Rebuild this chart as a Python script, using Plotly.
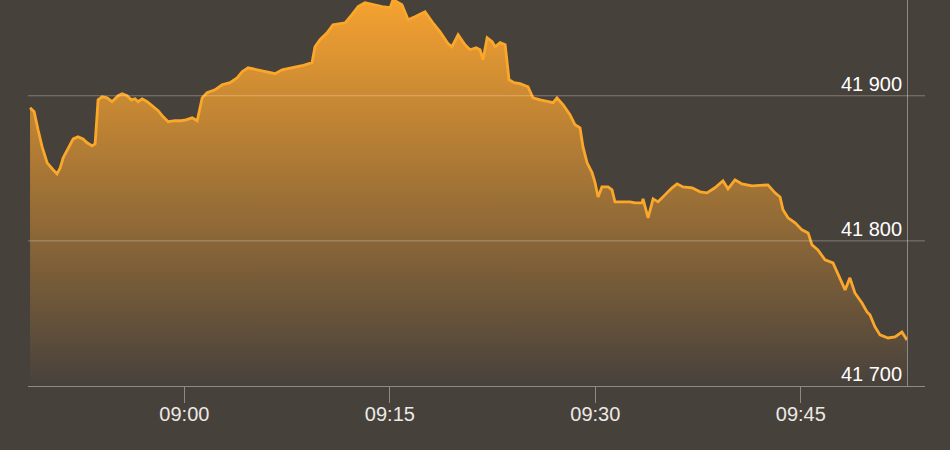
import plotly.graph_objects as go

# ---- data ----
times = [
    "08:48:44", "08:49:02", "08:49:19", "08:49:37", "08:49:59", "08:50:12", "08:50:25", "08:50:42", "08:50:56", "08:51:09",
    "08:51:26", "08:51:39", "08:51:53", "08:52:14", "08:52:36", "08:52:54", "08:53:16", "08:53:29", "08:53:42", "08:54:00",
    "08:54:21", "08:54:43", "08:55:10", "08:55:27", "08:55:49", "08:56:07", "08:56:24", "08:56:37", "08:56:55", "08:57:17",
    "08:57:43", "08:58:05", "08:58:27", "08:58:49", "08:59:19", "08:59:46", "09:00:07", "09:00:34", "09:00:56", "09:01:18",
    "09:01:39", "09:02:14", "09:02:45", "09:03:20", "09:03:51", "09:04:13", "09:04:39", "09:05:18", "09:05:53", "09:06:37",
    "09:07:08", "09:07:52", "09:08:35", "09:09:19", "09:09:32", "09:09:54", "09:10:25", "09:10:51", "09:11:44", "09:12:14",
    "09:12:41", "09:13:11", "09:13:46", "09:14:26", "09:15:01", "09:15:14", "09:15:53", "09:16:20", "09:16:50", "09:17:34",
    "09:18:05", "09:18:40", "09:19:15", "09:19:32", "09:19:59", "09:20:29", "09:20:51", "09:21:18", "09:21:35", "09:21:48",
    "09:22:06", "09:22:28", "09:22:41", "09:23:03", "09:23:25", "09:23:42", "09:24:04", "09:24:30", "09:25:05", "09:25:27",
    "09:25:58", "09:26:28", "09:26:55", "09:27:12", "09:27:39", "09:28:09", "09:28:31", "09:28:53", "09:29:06", "09:29:24",
    "09:29:46", "09:29:59", "09:30:12", "09:30:29", "09:30:56", "09:31:13", "09:31:26", "09:31:57", "09:32:32", "09:32:54",
    "09:33:25", "09:33:29", "09:33:51", "09:34:13", "09:34:35", "09:35:05", "09:35:36", "09:35:58", "09:36:24", "09:37:04",
    "09:37:39", "09:38:09", "09:38:44", "09:39:19", "09:39:41", "09:40:12", "09:40:42", "09:41:26", "09:42:10", "09:42:36",
    "09:43:07", "09:43:29", "09:43:42", "09:44:04", "09:44:35", "09:45:05", "09:45:32", "09:45:49", "09:46:15", "09:46:46",
    "09:47:21", "09:47:43", "09:48:14", "09:48:35", "09:48:57", "09:49:28", "09:49:50", "09:50:03", "09:50:25", "09:50:47",
    "09:51:22", "09:51:53", "09:52:23", "09:52:45",
]

index_values = [
    41891.7, 41889.0, 41876.6, 41864.8, 41853.8, 41851.0, 41849.0, 41846.2, 41850.3, 41857.2,
    41862.1, 41866.2, 41870.3, 41871.7, 41870.3, 41867.6, 41865.5, 41866.9, 41897.2, 41899.3,
    41898.6, 41895.9, 41900.0, 41901.4, 41900.0, 41897.2, 41897.9, 41895.9, 41897.9, 41895.9,
    41892.4, 41889.7, 41885.5, 41882.1, 41882.8, 41882.8, 41883.4, 41884.8, 41882.8, 41898.6,
    41902.1, 41904.1, 41907.6, 41909.0, 41912.4, 41916.6, 41919.3, 41917.9, 41916.6, 41915.2,
    41917.9, 41919.3, 41920.7, 41922.8, 41933.8, 41938.6, 41943.4, 41949.0, 41950.3, 41955.9,
    41961.4, 41964.1, 41962.8, 41961.4, 41960.7, 41966.2, 41962.8, 41952.4, 41954.5, 41957.9,
    41951.0, 41944.1, 41935.9, 41933.8, 41942.1, 41935.2, 41931.7, 41933.1, 41931.7, 41924.8,
    41940.0, 41937.2, 41933.8, 41936.6, 41935.2, 41911.0, 41909.0, 41908.3, 41906.2, 41898.6,
    41897.2, 41895.9, 41895.2, 41898.6, 41893.8, 41886.9, 41880.0, 41877.9, 41864.8, 41853.8,
    41846.9, 41840.0, 41830.3, 41837.2, 41837.2, 41835.2, 41826.9, 41826.9, 41826.9, 41826.2,
    41826.2, 41829.0, 41815.9, 41829.0, 41826.9, 41831.7, 41836.6, 41839.3, 41837.2, 41836.6,
    41833.8, 41833.1, 41836.6, 41841.4, 41835.9, 41842.1, 41839.3, 41837.9, 41838.6, 41838.6,
    41833.1, 41830.3, 41821.4, 41815.9, 41812.4, 41807.6, 41805.5, 41797.2, 41793.8, 41786.9,
    41784.8, 41776.6, 41766.2, 41774.5, 41764.1, 41757.2, 41751.0, 41749.0, 41740.7, 41735.2,
    41733.1, 41733.8, 41737.2, 41731.7,
]

x_tick_times = ["09:00", "09:15", "09:30", "09:45"]
x_tick_labels = ["09:00", "09:15", "09:30", "09:45"]
y_tick_values = [41700, 41800, 41900]
y_tick_labels = ["41 700", "41 800", "41 900"]

DAY = "2024-01-01 "
x = [DAY + t for t in times]

BG = "#47413c"
AXIS = "#8f8a85"
TEXT = "#ece9e5"

fig = go.Figure()
fig.add_trace(go.Scatter(
    x=x, y=index_values, mode="lines",
    line=dict(color="#fba82a", width=2.8),
    fill="tozeroy",
    fillgradient=dict(type="vertical",
                      colorscale=[[0, "rgb(71,65,60)"], [1, "rgb(246,162,48)"]],
                      start=41700, stop=41966),
    hoverinfo="skip",
))

for v in y_tick_values[1:]:
    fig.add_shape(type="line", xref="paper", x0=0, x1=1, yref="y", y0=v, y1=v,
                  line=dict(color="rgba(255,245,235,0.32)", width=1), layer="above")

fig.update_layout(
    width=950, height=450,
    margin=dict(l=28, r=25, t=0, b=64),
    paper_bgcolor=BG, plot_bgcolor=BG,
    showlegend=False,
    font=dict(family="Liberation Sans, Arial, sans-serif", size=20, color=TEXT),
    xaxis=dict(
        type="date",
        range=[DAY + "08:48:35", DAY + "09:54:04"],
        tickvals=[DAY + t for t in x_tick_times],
        ticktext=x_tick_labels,
        showgrid=False, zeroline=False,
        showline=True, linecolor=AXIS, linewidth=1,
        ticks="outside", ticklen=16, tickcolor=AXIS, tickwidth=1,
        ticklabelstandoff=-6,
    ),
    yaxis=dict(
        range=[41700, 41966],
        tickvals=y_tick_values, ticktext=y_tick_labels,
        showgrid=False, zeroline=False,
        anchor="free", position=0.98, side="right",
        showline=True, linecolor=AXIS, linewidth=1,
        ticks="", ticklabelposition="inside",
        ticklabelshift=-12, ticklabelstandoff=6,
    ),
)

fig.write_html("out.html")
